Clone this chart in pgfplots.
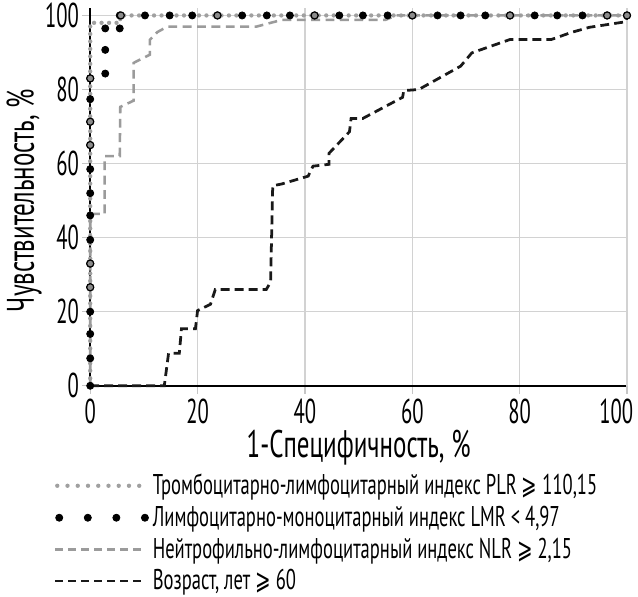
\documentclass[border=0pt]{standalone}
\usepackage{fontspec}
\setmainfont{PT Sans}[FakeStretch=0.65]
\newfontfamily\tickfont{PT Sans}[FakeStretch=0.6]
\newfontfamily\symfont{DejaVu Sans}[FakeStretch=0.65]
\usepackage{pgfplots}
\pgfplotsset{compat=1.18}
\definecolor{plrgray}{RGB}{160,160,160}
\definecolor{nlrgray}{RGB}{155,155,155}
\definecolor{ringgray}{RGB}{140,140,140}
\definecolor{agecol}{RGB}{25,25,25}

\begin{document}
\begin{tikzpicture}
\begin{axis}[
    scale only axis,
    width=272.5pt, height=191.75pt,
    xmin=0, xmax=100, ymin=0, ymax=102,
    xtick={0,20,...,80}, ytick={0,20,...,100},
    extra x ticks={100},
    extra x tick style={xticklabel style={xshift=-5.5pt}},
    axis x line=bottom, axis y line=left,
    axis line style={-, black, line width=0.8pt},
    grid=major, grid style={gray!35, line width=0.6pt},
    tick align=outside, major tick length=4pt,
    tick style={gray!45, line width=0.6pt},
    /pgf/number format/assume math mode=true,
    tick label style={font=\tickfont\fontsize{17.5}{19}\selectfont},
    xticklabel style={inner sep=2.5pt},
    yticklabel style={inner sep=1.5pt},
    clip=false,
    xlabel={1-Специфичность, \%},
    ylabel={Чувствительность, \%},
    label style={font=\fontsize{19.5}{21}\selectfont},
    xlabel style={at={(axis description cs:0.5,0)}, anchor=center, yshift=-31.5pt},
    ylabel style={at={(axis description cs:-0.123,0.49)}, anchor=center, rotate=0},
    legend style={at={(axis description cs:-0.068,-0.222)}, anchor=north west,
        draw=none, fill=none, font=\fontsize{14.5}{16}\selectfont,
        cells={anchor=west}, row sep=0.3pt, inner sep=0pt},
]
% PLR (gray dotted line)
\addplot[plrgray, line width=2.2pt, line cap=round, dash pattern=on 0pt off 3.8pt,
    legend image code/.code={\draw[plrgray, line width=2.2pt, line cap=round, dash pattern=on 0pt off 5.2pt] (1pt,0pt) -- (46pt,0pt);}]
    coordinates {(0,0) (0,98) (5.6,98) (5.6,100) (100,100)};
\addlegendentry{Тромбоцитарно-лимфоцитарный индекс PLR {\symfont ⩾} 110,15}

% LMR (black dots)
\addplot[only marks, mark=*, mark size=1.8pt, black,
    legend image code/.code={\foreach \i in {0,1,2,3} \fill[black] (\i*14.5pt+2pt,0pt) circle (1.8pt); \path (46pt,0pt);}]
    coordinates {
    (0,0) (0,7.4) (0,14) (0,20) (0,26.6) (0,33) (0,39.4) (0,46) (0,52) (0,58.5)
    (0,65) (0,71.3) (0,77.4) (0,83)
    (2.8,84.3) (2.8,90.7) (2.8,96.5) (5.5,96.5) (5.5,100)
    (10.2,100) (14.8,100) (19,100) (23.7,100) (28.3,100) (32.9,100) (37.2,100)
    (41.8,100) (46.4,100) (50.8,100) (55.4,100) (60,100) (64.7,100) (69,100)
    (73.6,100) (78.2,100) (82.8,100) (87,100) (91.7,100) (96.3,100) (100,100)
    };
\addlegendentry{Лимфоцитарно-моноцитарный индекс LMR < 4,97}

% NLR (gray dashed)
\addplot[nlrgray, line width=1.3pt, dash pattern=on 4.5pt off 2.8pt,
    legend image code/.code={\draw[nlrgray, line width=1.1pt, dash pattern=on 4pt off 2.6pt] (0pt,0pt) -- (46pt,0pt);}]
    coordinates {
    (0,0) (0,46.4) (2.1,46.4) (2.7,46.4) (2.7,62) (5.5,62) (5.6,75.3) (8.1,77)
    (8.1,87.2) (11.1,89.4) (11.1,93.4) (12.5,95.5) (14.4,97) (31,97) (35.7,98.8)
    (55,98.8) (57,100) (100,100)
    };
\addlegendentry{Нейтрофильно-лимфоцитарный индекс NLR {\symfont ⩾} 2,15}

% Age (black dashed)
\addplot[agecol, line width=1.4pt, dash pattern=on 4.5pt off 2.6pt,
    legend image code/.code={\draw[agecol, line width=1.2pt, dash pattern=on 4pt off 2.6pt] (0pt,0pt) -- (46pt,0pt);}]
    coordinates {
    (0,0) (13.8,0) (14.6,8.8) (16.6,8.8) (17,15.4) (19.6,15.4) (20,20.3)
    (22.4,22) (23.3,26) (32.8,26) (33.6,28) (34,54) (35.7,54.5) (40.6,56.6)
    (41.5,59.3) (44.5,59.8) (44.5,62.8) (48.3,68.6) (48.6,72.2) (50.8,72.2)
    (58.2,77.9) (58.4,79.7) (61.2,80) (69,86.3) (71.1,89.9) (78.2,93.5)
    (85.9,93.5) (89.6,95.4) (93,96.8) (99.8,98.3) (100,100)
    };
\addlegendentry{Возраст, лет {\symfont ⩾} 60}

% gray-filled rings overlapping the dot series
\addplot[only marks, mark=*, mark size=1.8pt, mark options={fill=ringgray, draw=black, line width=0.6pt}, forget plot]
    coordinates {
    (0,26.6) (0,33) (0,65) (0,71.3) (0,83)
    (5.7,100) (23.7,100) (41.8,100) (60,100) (78.2,100) (96.3,100) (100,100)
    };
\end{axis}
\end{tikzpicture}
\end{document}
